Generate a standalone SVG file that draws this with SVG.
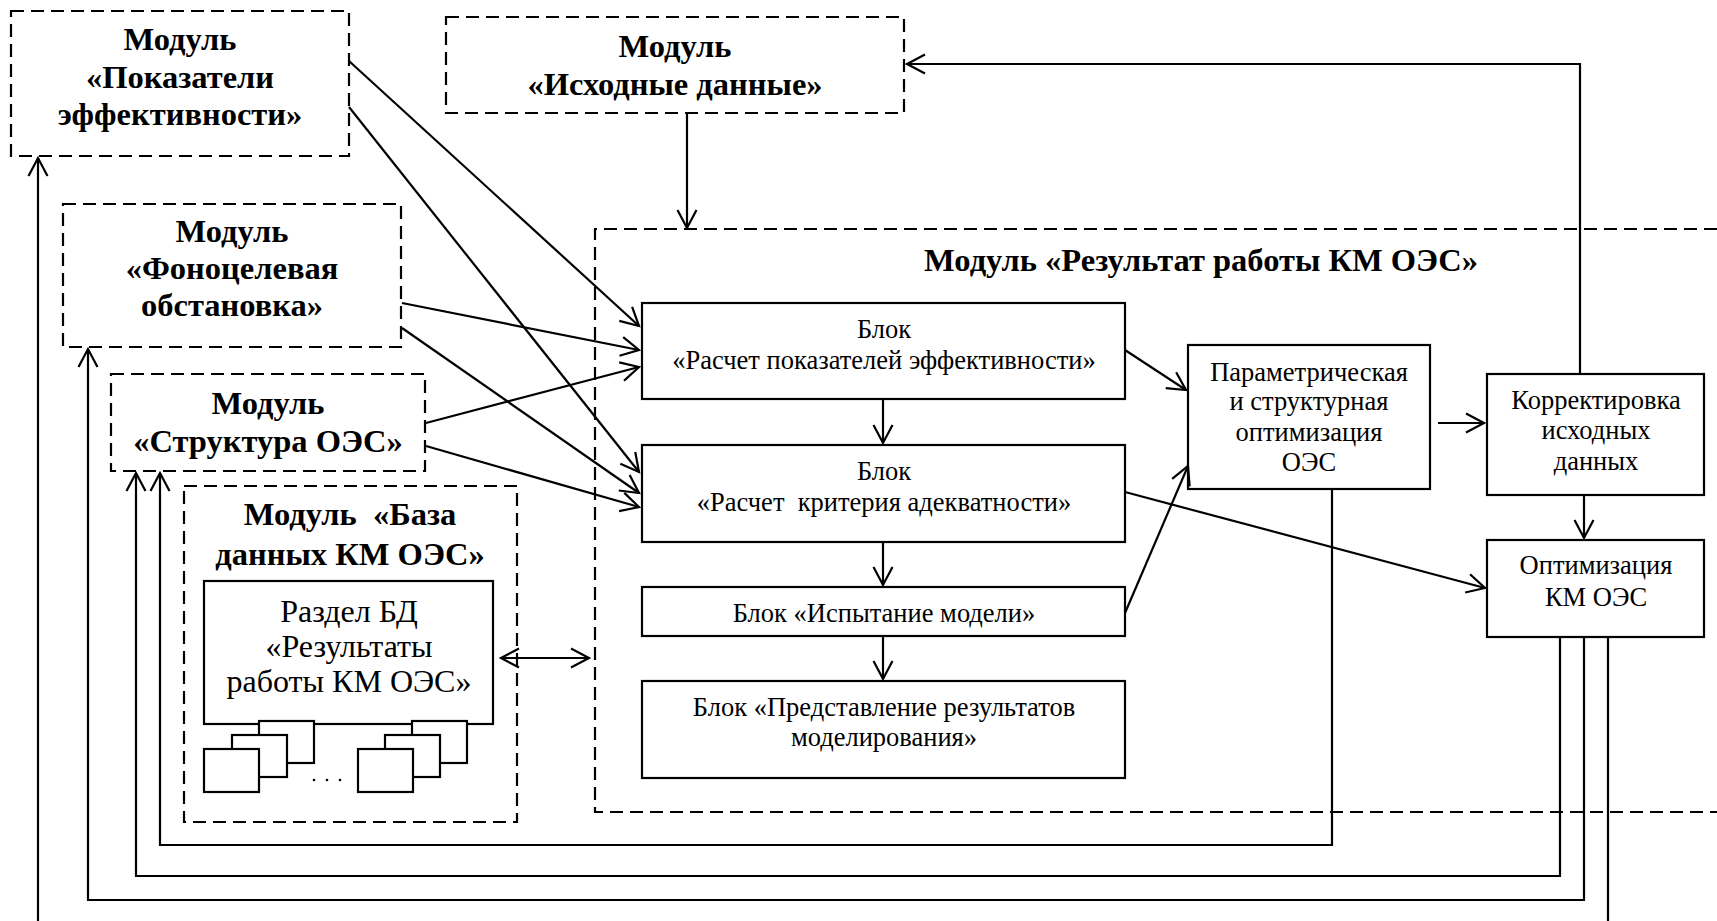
<svg xmlns="http://www.w3.org/2000/svg" width="1717" height="921" viewBox="0 0 1717 921">
  <style>
    .dash { fill: #fff; stroke: #000; stroke-width: 2.2; stroke-dasharray: 13 7; }
    .dashline { fill: none; stroke: #000; stroke-width: 2.2; stroke-dasharray: 13 7; }
    .box { fill: #fff; stroke: #000; stroke-width: 2.2; }
    .page { fill: #fff; stroke: #000; stroke-width: 2.2; }
    .b { font-family: "Liberation Serif", "Times New Roman", serif; font-weight: bold; font-size: 32.5px; text-anchor: middle; fill: #000; }
    .r { font-family: "Liberation Serif", "Times New Roman", serif; font-size: 26.5px; text-anchor: middle; fill: #000; }
    .rl { font-family: "Liberation Serif", "Times New Roman", serif; font-size: 32px; text-anchor: middle; fill: #000; }
    .ln { fill: none; stroke: #000; stroke-width: 2.2; }
  </style>
  <defs>
    <marker id="arr" viewBox="-20 -12 24 24" refX="0" refY="0" markerWidth="24" markerHeight="24" markerUnits="userSpaceOnUse" orient="auto-start-reverse">
      <path d="M-18,-9.5 L0,0 L-18,9.5" fill="none" stroke="#000" stroke-width="2.2"/>
    </marker>
  </defs>

  <rect width="1717" height="921" fill="#fff"/>

  <!-- enclosing module with the processing blocks -->
  <g id="module-result">
    <path class="dashline" d="M1717,229 H595 V812 H1717"/>
    <text class="b" x="1201" y="271">Модуль «Результат работы КМ ОЭС»</text>
  </g>

  <g id="module-indicators">
    <rect class="dash" x="11" y="11" width="338" height="145"/>
    <text class="b" x="180" y="50">Модуль</text>
    <text class="b" x="180" y="88">«Показатели</text>
    <text class="b" x="180" y="125">эффективности»</text>
  </g>

  <g id="module-input">
    <rect class="dash" x="446" y="17" width="458" height="96"/>
    <text class="b" x="675" y="57">Модуль</text>
    <text class="b" x="675" y="95">«Исходные данные»</text>
  </g>

  <g id="module-background">
    <rect class="dash" x="63" y="204" width="338" height="143"/>
    <text class="b" x="232" y="242">Модуль</text>
    <text class="b" x="232" y="279">«Фоноцелевая</text>
    <text class="b" x="232" y="316">обстановка»</text>
  </g>

  <g id="module-structure">
    <rect class="dash" x="111" y="374" width="314" height="97"/>
    <text class="b" x="268" y="414">Модуль</text>
    <text class="b" x="268" y="452">«Структура ОЭС»</text>
  </g>

  <g id="module-database">
    <rect class="dash" x="184" y="486" width="333" height="336"/>
    <text class="b" x="350" y="525" xml:space="preserve">Модуль  «База</text>
    <text class="b" x="350" y="565">данных КМ ОЭС»</text>
  </g>

  <g id="db-section">
    <rect class="box" x="204" y="581" width="289" height="143"/>
    <text class="rl" x="349" y="622">Раздел БД</text>
    <text class="rl" x="349" y="657">«Результаты</text>
    <text class="rl" x="349" y="692">работы КМ ОЭС»</text>
  </g>

  <g id="db-records">
    <rect class="page" x="259" y="721" width="55" height="42"/>
    <rect class="page" x="232" y="735" width="55" height="42"/>
    <rect class="page" x="204" y="749" width="55" height="43"/>
    <rect class="page" x="412" y="721" width="55" height="42"/>
    <rect class="page" x="385" y="735" width="55" height="42"/>
    <rect class="page" x="358" y="749" width="55" height="43"/>
    <circle cx="314" cy="780" r="1.3" fill="#000"/>
    <circle cx="327" cy="780" r="1.3" fill="#000"/>
    <circle cx="340" cy="780" r="1.3" fill="#000"/>
  </g>

  <g id="block-indicators">
    <rect class="box" x="642" y="303" width="483" height="96"/>
    <text class="r" x="884" y="338">Блок</text>
    <text class="r" x="884" y="369">«Расчет показателей эффективности»</text>
  </g>

  <g id="block-adequacy">
    <rect class="box" x="642" y="445" width="483" height="97"/>
    <text class="r" x="884" y="480">Блок</text>
    <text class="r" x="884" y="511" xml:space="preserve">«Расчет  критерия адекватности»</text>
  </g>

  <g id="block-test">
    <rect class="box" x="642" y="587" width="483" height="49"/>
    <text class="r" x="884" y="622">Блок «Испытание модели»</text>
  </g>

  <g id="block-presentation">
    <rect class="box" x="642" y="681" width="483" height="97"/>
    <text class="r" x="884" y="716">Блок «Представление результатов</text>
    <text class="r" x="884" y="746">моделирования»</text>
  </g>

  <g id="optimization-oes">
    <rect class="box" x="1188" y="345" width="242" height="144"/>
    <text class="r" x="1309" y="381">Параметрическая</text>
    <text class="r" x="1309" y="410">и структурная</text>
    <text class="r" x="1309" y="441">оптимизация</text>
    <text class="r" x="1309" y="471">ОЭС</text>
  </g>

  <g id="correction">
    <rect class="box" x="1487" y="374" width="217" height="121"/>
    <text class="r" x="1596" y="409">Корректировка</text>
    <text class="r" x="1596" y="439">исходных</text>
    <text class="r" x="1596" y="470">данных</text>
  </g>

  <g id="optimization-km">
    <rect class="box" x="1487" y="540" width="217" height="97"/>
    <text class="r" x="1596" y="574">Оптимизация</text>
    <text class="r" x="1596" y="606">КМ ОЭС</text>
  </g>

  <g id="connectors">
    <!-- inputs from the modules into the calculation blocks -->
    <line class="ln" x1="349" y1="61" x2="639" y2="326" marker-end="url(#arr)"/>
    <line class="ln" x1="349" y1="107" x2="639" y2="472" marker-end="url(#arr)"/>
    <line class="ln" x1="402" y1="303" x2="639" y2="350" marker-end="url(#arr)"/>
    <line class="ln" x1="402" y1="328" x2="639" y2="493" marker-end="url(#arr)"/>
    <line class="ln" x1="426" y1="423" x2="639" y2="367" marker-end="url(#arr)"/>
    <line class="ln" x1="426" y1="446" x2="639" y2="507" marker-end="url(#arr)"/>
    <line class="ln" x1="687" y1="113" x2="687" y2="228" marker-end="url(#arr)"/>

    <!-- chain of blocks -->
    <line class="ln" x1="883" y1="399" x2="883" y2="443" marker-end="url(#arr)"/>
    <line class="ln" x1="883" y1="542" x2="883" y2="585" marker-end="url(#arr)"/>
    <line class="ln" x1="883" y1="636" x2="883" y2="679" marker-end="url(#arr)"/>

    <!-- towards optimisation -->
    <line class="ln" x1="1125" y1="350" x2="1186" y2="390" marker-end="url(#arr)"/>
    <line class="ln" x1="1125" y1="613" x2="1188" y2="466" marker-end="url(#arr)"/>
    <line class="ln" x1="1125" y1="492" x2="1485" y2="588" marker-end="url(#arr)"/>
    <line class="ln" x1="1438" y1="423" x2="1484" y2="423" marker-end="url(#arr)"/>
    <line class="ln" x1="1584" y1="495" x2="1584" y2="538" marker-end="url(#arr)"/>

    <!-- feedback loops -->
    <polyline class="ln" points="1580,374 1580,64 907,64" marker-end="url(#arr)"/>
    <polyline class="ln" points="1332,489 1332,845 160,845 160,473" marker-end="url(#arr)"/>
    <polyline class="ln" points="1560,637 1560,876 136,876 136,473" marker-end="url(#arr)"/>
    <polyline class="ln" points="1584,637 1584,900 88,900 88,349" marker-end="url(#arr)"/>
    <line class="ln" x1="1608" y1="637" x2="1608" y2="921"/>
    <line class="ln" x1="38" y1="921" x2="38" y2="158" marker-end="url(#arr)"/>

    <!-- exchange with the database -->
    <line class="ln" x1="501" y1="658" x2="589" y2="658" marker-start="url(#arr)" marker-end="url(#arr)"/>
  </g>
</svg>
